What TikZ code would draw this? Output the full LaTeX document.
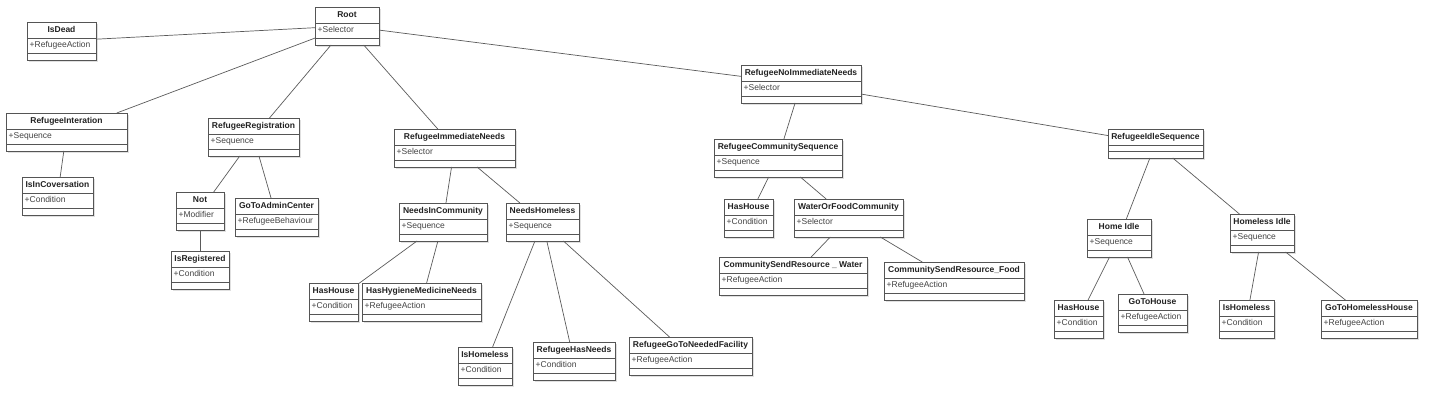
\documentclass[tikz,border=0pt]{standalone}
\usepackage{fontspec}
\setmainfont{Liberation Sans}
\usepackage{xcolor}
\usepackage{tikz}
\usetikzlibrary{shadows,positioning}

\definecolor{boxc}{HTML}{555555}
\definecolor{linkc}{HTML}{5A5A5A}
\definecolor{ttlc}{HTML}{222222}
\definecolor{attrc}{HTML}{444444}

\tikzset{
  ttl/.style={font=\fontsize{8.5}{10}\selectfont\bfseries, text=ttlc, anchor=north, inner xsep=0pt, inner ysep=3pt, text height=7pt, text depth=3pt},
  attr/.style={font=\fontsize{8.5}{10}\selectfont, text=attrc, anchor=north west, yshift=-16pt, inner xsep=2.5pt, inner ysep=2.5pt, text height=7pt, text depth=3pt},
  cls/.style 2 args={draw=boxc, line width=0.8pt, fill=white, inner sep=0pt, outer sep=0pt, minimum height=38pt,
    drop shadow={shadow xshift=2pt, shadow yshift=-2pt, fill=black, opacity=0.12},
    path picture={
      \draw[boxc, line width=0.8pt] ([yshift=-16pt]path picture bounding box.north west) -- ([yshift=-16pt]path picture bounding box.north east);
      \draw[boxc, line width=0.8pt] ([yshift=6.5pt]path picture bounding box.south west) -- ([yshift=6.5pt]path picture bounding box.south east);
    },
    label={[ttl]north:#1}, label={[attr]north west:#2}},
  link/.style={draw=linkc, line width=0.7pt}
}

\begin{document}
\begin{tikzpicture}

\coordinate(O1) at (0,0);
\useasboundingbox (O1) rectangle ++(1442pt,-412pt);

% top level
\node[cls={Root}{+Selector}, minimum width=64pt, below right=7pt and 315pt of O1](root) {};
\node[cls={IsDead}{+RefugeeAction}, minimum width=69pt, below right=22pt and 27pt of O1](isdead) {};
\node[cls={RefugeeInteration}{+Sequence}, minimum width=121pt, below right=113pt and 6pt of O1](refint) {};
\node[cls={IsInCoversation}{+Condition}, minimum width=71pt, below right=177pt and 22pt of O1](isinconv) {};

\node[cls={RefugeeRegistration}{+Sequence}, minimum width=91pt, below right=118pt and 208pt of O1](refreg) {};
\node[cls={Not}{+Modifier}, minimum width=48pt, below right=192pt and 176pt of O1](notmod) {};
\node[cls={GoToAdminCenter}{+RefugeeBehaviour}, minimum width=83pt, below right=198pt and 235pt of O1](gotoadmin) {};
\node[cls={IsRegistered}{+Condition}, minimum width=58pt, below right=251pt and 171pt of O1](isreg) {};

% immediate needs
\node[cls={RefugeeImmediateNeeds}{+Selector}, minimum width=121pt, below right=129pt and 394pt of O1](refimm) {};
\node[cls={NeedsInCommunity}{+Sequence}, minimum width=88pt, below right=203pt and 399pt of O1](needscomm) {};
\node[cls={NeedsHomeless}{+Sequence}, minimum width=73pt, below right=203pt and 506pt of O1](needshomeless) {};
\node[cls={HasHouse}{+Condition}, minimum width=49pt, below right=283pt and 309pt of O1](hashouseA) {};
\node[cls={HasHygieneMedicineNeeds}{+RefugeeAction}, minimum width=119pt, below right=283pt and 362pt of O1](hygiene) {};
\node[cls={IsHomeless}{+Condition}, minimum width=54pt, below right=347pt and 458pt of O1](ishomelessA) {};
\node[cls={RefugeeHasNeeds}{+Condition}, minimum width=82pt, below right=342pt and 533pt of O1](hasneeds) {};
\node[cls={RefugeeGoToNeededFacility}{+RefugeeAction}, minimum width=123pt, below right=337pt and 629pt of O1](gotofacility) {};

% no immediate needs
\node[cls={RefugeeNoImmediateNeeds}{+Selector}, minimum width=120pt, below right=65pt and 741pt of O1](refnoimm) {};
\node[cls={RefugeeCommunitySequence}{+Sequence}, minimum width=128pt, below right=139pt and 714pt of O1](commseq) {};
\node[cls={HasHouse}{+Condition}, minimum width=49pt, below right=199pt and 724pt of O1](hashouseB) {};
\node[cls={WaterOrFoodCommunity}{+Selector}, minimum width=109pt, below right=199pt and 794pt of O1](waterfood) {};
\node[cls={CommunitySendResource \_ Water}{+RefugeeAction}, minimum width=148pt, below right=257pt and 719pt of O1](sendwater) {};
\node[cls={CommunitySendResource\_Food}{+RefugeeAction}, minimum width=140pt, below right=262pt and 884pt of O1](sendfood) {};

% idle
\node[cls={RefugeeIdleSequence}{}, minimum width=95pt, minimum height=29pt, below right=129pt and 1108pt of O1](idleseq) {};
\node[cls={Home Idle}{+Sequence}, minimum width=64pt, below right=219pt and 1087pt of O1](homeidle) {};
\node[cls={Homeless Idle}{+Sequence}, minimum width=64pt, below right=214pt and 1230pt of O1](homelessidle) {};
\node[cls={HasHouse}{+Condition}, minimum width=49pt, below right=300pt and 1054pt of O1](hashouseC) {};
\node[cls={GoToHouse}{+RefugeeAction}, minimum width=69pt, below right=294pt and 1118pt of O1](gotohouse) {};
\node[cls={IsHomeless}{+Condition}, minimum width=55pt, below right=300pt and 1219pt of O1](ishomelessB) {};
\node[cls={GoToHomelessHouse}{+RefugeeAction}, minimum width=96pt, below right=300pt and 1321pt of O1](gotohomelesshouse) {};


\draw[link] (root) -- (isdead);
\draw[link] (root) -- (refint);
\draw[link] (root) -- (refreg);
\draw[link] (root) -- (refimm);
\draw[link] (root) -- (refnoimm);
\draw[link] (refint) -- (isinconv);
\draw[link] (refreg) -- (notmod);
\draw[link] (refreg) -- (gotoadmin);
\draw[link] (notmod) -- (isreg);
\draw[link] (refimm) -- (needscomm);
\draw[link] (refimm) -- (needshomeless);
\draw[link] (needscomm) -- (hashouseA);
\draw[link] (needscomm) -- (hygiene);
\draw[link] (needshomeless) -- (ishomelessA);
\draw[link] (needshomeless) -- (hasneeds);
\draw[link] (needshomeless) -- (gotofacility);
\draw[link] (refnoimm) -- (commseq);
\draw[link] (refnoimm) -- (idleseq);
\draw[link] (commseq) -- (hashouseB);
\draw[link] (commseq) -- (waterfood);
\draw[link] (waterfood) -- (sendwater);
\draw[link] (waterfood) -- (sendfood);
\draw[link] (idleseq) -- (homeidle);
\draw[link] (idleseq) -- (homelessidle);
\draw[link] (homeidle) -- (hashouseC);
\draw[link] (homeidle) -- (gotohouse);
\draw[link] (homelessidle) -- (ishomelessB);
\draw[link] (homelessidle) -- (gotohomelesshouse);
\end{tikzpicture}
\end{document}
